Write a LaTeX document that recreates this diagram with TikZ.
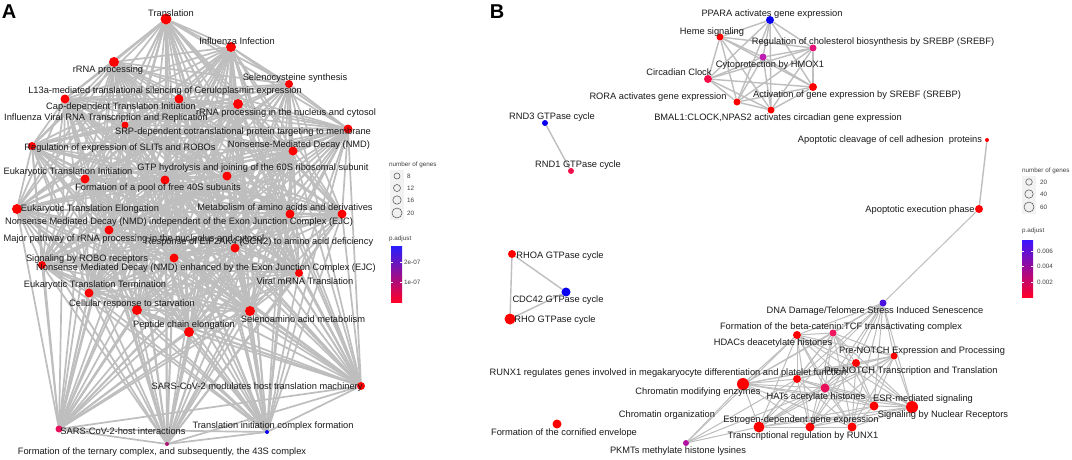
\documentclass[tikz,border=0pt]{standalone}
\usepackage{fontspec}
\setmainfont{Liberation Sans}
\pgfdeclarelayer{background}
\pgfdeclarelayer{canvas}
\pgfsetlayers{canvas,background,main}
\definecolor{nred}{RGB}{255,0,0}
\definecolor{nblue}{RGB}{10,0,240}
\definecolor{cpink}{RGB}{232,16,90}
\definecolor{cpurp}{RGB}{170,16,110}
\definecolor{cpinkB}{RGB}{228,20,120}
\definecolor{cmag}{RGB}{190,30,175}
\definecolor{cred2}{RGB}{242,14,72}
\definecolor{cdna}{RGB}{74,16,224}
\definecolor{cbeta}{RGB}{240,24,96}
\definecolor{cpkmt}{RGB}{176,16,160}
\definecolor{edgec}{RGB}{190,190,190}
\definecolor{txt}{RGB}{26,26,26}
\tikzset{
  nd/.style={circle,inner sep=0pt,draw=none},
  lab/.style={inner sep=0pt,text=txt,font=\fontsize{9.3}{11}\selectfont},
  leg/.style={inner sep=0pt,text=black!75,font=\fontsize{6.3}{7}\selectfont},
  edgeA/.style={draw=edgec,line width=1.7pt},
  edgeB/.style={draw=edgec,line width=1.4pt},
  edgeC/.style={draw=edgec,line width=1pt},
  keybox/.style={fill=black!5,draw=none},
  keycirc/.style={circle,inner sep=0pt,draw=black!70,fill=black!6,line width=0.5pt},
  panel/.style={inner sep=0pt,font=\fontsize{20}{22}\selectfont\bfseries}
}
\begin{document}
\begin{tikzpicture}[x=1pt,y=-1pt]
\begin{pgfonlayer}{canvas}
\fill[white] (0,0) rectangle (1072,459);
\end{pgfonlayer}
\useasboundingbox (0,0) rectangle (1072,459);

\node[panel] (pA) at (9,12) {A};
\node[panel] (pB) at (497,12) {B};

% ---------- Panel A nodes ----------
\foreach \n/\x/\y/\d/\c in {
1/166/19/11/nred, 2/231/47/10/nred, 3/114/62/10/nred, 4/289/84/8/nred,
5/179/99/9/nred, 6/65/99/9/nred, 7/238/104/10/nred, 8/125/125/7/nred,
9/348/129/9/nred, 10/32/146/8/nred, 11/293/151/9/nred, 12/85/179/9/nred,
13/227/176/9/nred, 14/165/180/9/nred, 15/17/209/10/nred, 16/290/214/9/nred,
17/342/214/9/nred, 18/109/230/9/nred, 19/235/248/9/nred, 20/174/258/9/nred,
21/42/265/8/nred, 22/299/273/8/nred, 23/89/293/9/nred, 24/137/310/10/nred,
25/250/311/10/nred, 26/189/332/10/nred, 27/361/386/8/nred, 28/59/429/7/cpink,
29/267/432/4/nblue, 30/167/444/4/cpurp}
  \node[nd,fill=\c,minimum size=\d pt] (a\n) at (\x,\y) {};

\begin{pgfonlayer}{background}
\foreach \i in {1,...,29}{
  \pgfmathtruncatemacro\k{\i+1}
  \foreach \j in {\k,...,30}{ \draw[edgeA] (a\i) -- (a\j); }
}
\end{pgfonlayer}

% ---------- Panel A labels ----------
\node[lab] (la1) at (171,13) {Translation};
\node[lab] (la2) at (237,41) {Influenza Infection};
\node[lab] (la3) at (108,70) {rRNA processing};
\node[lab] (la4) at (295,78) {Selenocysteine synthesis};
\node[lab] (la5) at (165,91) {L13a-mediated translational silencing of Ceruloplasmin expression};
\node[lab] (la6) at (121,107) {Cap-dependent Translation Initiation};
\node[lab] (la7) at (286,113) {rRNA processing in the nucleus and cytosol};
\node[lab] (la8) at (106,118) {Influenza Viral RNA Transcription and Replication};
\node[lab] (la9) at (243,132) {SRP-dependent cotranslational protein targeting to membrane};
\node[lab] (la10) at (120,148) {Regulation of expression of SLITs and ROBOs};
\node[lab] (la11) at (299,145) {Nonsense-Mediated Decay (NMD)};
\node[lab] (la12) at (68,172) {Eukaryotic Translation Initiation};
\node[lab] (la13) at (253,168) {GTP hydrolysis and joining of the 60S ribosomal subunit};
\node[lab] (la14) at (158,188) {Formation of a pool of free 40S subunits};
\node[lab] (la15) at (90,209) {Eukaryotic Translation Elongation};
\node[lab] (la16) at (285,207) {Metabolism of amino acids and derivatives};
\node[lab] (la17) at (179,222) {Nonsense Mediated Decay (NMD) independent of the Exon Junction Complex (EJC)};
\node[lab] (la19) at (259,242) {Response of EIF2AK4 (GCN2) to amino acid deficiency};
\node[lab] (la18) at (134,239) {Major pathway of rRNA processing in the nucleolus and cytosol};
\node[lab] (la21) at (87,259) {Signaling by ROBO receptors};
\node[lab] (la20) at (206,268) {Nonsense Mediated Decay (NMD) enhanced by the Exon Junction Complex (EJC)};
\node[lab] (la22) at (305,281) {Viral mRNA Translation};
\node[lab] (la23) at (95,285) {Eukaryotic Translation Termination};
\node[lab] (la24) at (132,304) {Cellular response to starvation};
\node[lab] (la25) at (303,319) {Selenoamino acid metabolism};
\node[lab] (la26) at (184,325) {Peptide chain elongation};
\node[lab] (la27) at (257,387) {SARS-CoV-2 modulates host translation machinery};
\node[lab] (la28) at (123,431) {SARS-CoV-2-host interactions};
\node[lab] (la29) at (273,426) {Translation initiation complex formation};
\node[lab] (la30) at (162,452) {Formation of the ternary complex, and subsequently, the 43S complex};

% ---------- Panel A legend ----------
\node[leg,anchor=west] (lgA1) at (389,165) {number of genes};
\fill[keybox] (390,170) rectangle (404,220);
\node[keycirc,minimum size=6pt] (kA1) at (397,176) {};
\node[keycirc,minimum size=7pt] (kA2) at (397,188) {};
\node[keycirc,minimum size=8.4pt] (kA3) at (397,200) {};
\node[keycirc,minimum size=10pt] (kA4) at (397,213) {};
\node[leg,anchor=west] (kAt1) at (407,176) {8};
\node[leg,anchor=west] (kAt2) at (407,188) {12};
\node[leg,anchor=west] (kAt3) at (407,200) {16};
\node[leg,anchor=west] (kAt4) at (407,213) {20};
\node[leg,anchor=west] (lgA2) at (389,239) {p.adjust};
\shade[top color={rgb,255:red,40;green,30;blue,255},middle color={rgb,255:red,205;green,0;blue,180},bottom color={rgb,255:red,255;green,0;blue,40}] (391,246) rectangle (402,302);
\draw[white,line width=0.5pt] (391,262) -- (393,262) (400,262) -- (402,262) (391,282) -- (393,282) (400,282) -- (402,282);
\node[leg,anchor=west] (cA1) at (404,262) {2e-07};
\node[leg,anchor=west] (cA2) at (404,282) {1e-07};

% ---------- Panel B nodes ----------
\foreach \n/\x/\y/\d/\c in {
1/770/20/8/nblue, 2/720/37/7/nred, 3/813/48/7/cpinkB, 4/763/57/7/cmag,
5/708/79/8/cred2, 6/737/102/7/nred, 7/813/87/8/nred, 8/771/110/7/nred}
  \node[nd,fill=\c,minimum size=\d pt] (t\n) at (\x,\y) {};
\foreach \n/\x/\y/\d/\c in {
1/883/303/7/cdna, 2/833/333/7/cbeta, 3/797/335/8/nred, 4/894/356/7/nred,
5/856/363/8/nred, 6/797/379/8/nred, 7/743/384/12/nred, 8/825/388/9/cpink,
9/874/406/9/nred, 10/912/407/12/nred, 11/759/427/11/nred, 12/810/427/9/nred,
13/852/427/9/nred, 14/686/443/6/cpkmt}
  \node[nd,fill=\c,minimum size=\d pt] (b\n) at (\x,\y) {};
\node[nd,fill=nblue,minimum size=6pt] (r1) at (545,123) {};
\node[nd,fill=cred2,minimum size=6pt] (r2) at (571,171) {};
\node[nd,fill=nred,minimum size=8pt] (g1) at (512,254) {};
\node[nd,fill=nblue,minimum size=9pt] (g2) at (566,292) {};
\node[nd,fill=nred,minimum size=11pt] (g3) at (510,319) {};
\node[nd,fill=nred,minimum size=9pt] (c1) at (557,424) {};
\node[nd,fill=nred,minimum size=4pt] (p1) at (987,140) {};
\node[nd,fill=nred,minimum size=8pt] (p2) at (979,209) {};

\begin{pgfonlayer}{background}
\foreach \i in {1,...,7}{
  \pgfmathtruncatemacro\k{\i+1}
  \foreach \j in {\k,...,8}{ \draw[edgeB] (t\i) -- (t\j); }
}
\foreach \i in {1,...,12}{
  \pgfmathtruncatemacro\k{\i+1}
  \foreach \j in {\k,...,13}{ \draw[edgeC] (b\i) -- (b\j); }
}
\foreach \j in {3,6,7,8,11}{ \draw[edgeC] (b14) -- (b\j); }
\draw[edgeB] (r1) -- (r2);
\draw[edgeB] (g1) -- (g2);
\draw[edgeB] (g1) -- (g3);
\draw[edgeB] (g2) -- (g3);
\draw[edgeB] (p1) -- (p2);
\draw[edgeC] (p2) -- (b1);
\end{pgfonlayer}

% ---------- Panel B labels ----------
\node[lab] (lt1) at (772,14) {PPARA activates gene expression};
\node[lab] (lt2) at (712,32) {Heme signaling};
\node[lab] (lt3) at (873,42) {Regulation of cholesterol biosynthesis by SREBP (SREBF)};
\node[lab] (lt4) at (770,65) {Cytoprotection by HMOX1};
\node[lab] (lt5) at (679,72) {Circadian Clock};
\node[lab] (lt6) at (658,97) {RORA activates gene expression};
\node[lab] (lt7) at (857,95) {Activation of gene expression by SREBF (SREBP)};
\node[lab] (lt8) at (778,118) {BMAL1:CLOCK,NPAS2 activates circadian gene expression};
\node[lab] (lr1) at (552,117) {RND3 GTPase cycle};
\node[lab] (lr2) at (578,165) {RND1 GTPase cycle};
\node[lab] (lg1) at (560,256) {RHOA GTPase cycle};
\node[lab] (lg2) at (558,300) {CDC42 GTPase cycle};
\node[lab] (lg3) at (555,320) {RHO GTPase cycle};
\node[lab] (lc1) at (564,433) {Formation of the cornified envelope};
\node[lab] (lp1) at (890,140) {Apoptotic cleavage of cell adhesion\ \ proteins};
\node[lab] (lp2) at (920,210) {Apoptotic execution phase};
\node[lab] (lb1) at (875,311) {DNA Damage/Telomere Stress Induced Senescence};
\node[lab] (lb2) at (841,327) {Formation of the beta-catenin:TCF transactivating complex};
\node[lab] (lb3) at (773,343) {HDACs deacetylate histones};
\node[lab] (lb4) at (922,351) {Pre-NOTCH Expression and Processing};
\node[lab] (lb5) at (911,371) {Pre-NOTCH Transcription and Translation};
\node[lab] (lb6) at (668,373) {RUNX1 regulates genes involved in megakaryocyte differentiation and platelet function};
\node[lab] (lb7) at (698,392) {Chromatin modifying enzymes};
\node[lab] (lb8) at (816,397) {HATs acetylate histones};
\node[lab] (lb9) at (923,399) {ESR-mediated signaling};
\node[lab] (lb10) at (943,415) {Signaling by Nuclear Receptors};
\node[lab] (lb11) at (667,415) {Chromatin organization};
\node[lab] (lb12) at (801,420) {Estrogen-dependent gene expression};
\node[lab] (lb13) at (803,436) {Transcriptional regulation by RUNX1};
\node[lab] (lb14) at (678,451) {PKMTs methylate histone lysines};

% ---------- Panel B legend ----------
\node[leg,anchor=west] (lgB1) at (1022,171) {number of genes};
\fill[keybox] (1022,176) rectangle (1036,214);
\node[keycirc,minimum size=6.6pt] (kB1) at (1029,182) {};
\node[keycirc,minimum size=8.4pt] (kB2) at (1029,194) {};
\node[keycirc,minimum size=10pt] (kB3) at (1029,207) {};
\node[leg,anchor=west] (kBt1) at (1040,182) {20};
\node[leg,anchor=west] (kBt2) at (1040,194) {40};
\node[leg,anchor=west] (kBt3) at (1040,207) {60};
\node[leg,anchor=west] (lgB2) at (1022,231) {p.adjust};
\shade[top color={rgb,255:red,60;green,20;blue,255},middle color={rgb,255:red,205;green,0;blue,180},bottom color={rgb,255:red,255;green,0;blue,40}] (1022,240) rectangle (1033,297);
\draw[white,line width=0.5pt] (1022,251) -- (1024,251) (1031,251) -- (1033,251) (1022,266) -- (1024,266) (1031,266) -- (1033,266) (1022,282) -- (1024,282) (1031,282) -- (1033,282);
\node[leg,anchor=west] (cB1) at (1037,251) {0.006};
\node[leg,anchor=west] (cB2) at (1037,266) {0.004};
\node[leg,anchor=west] (cB3) at (1037,282) {0.002};
\end{tikzpicture}
\end{document}
